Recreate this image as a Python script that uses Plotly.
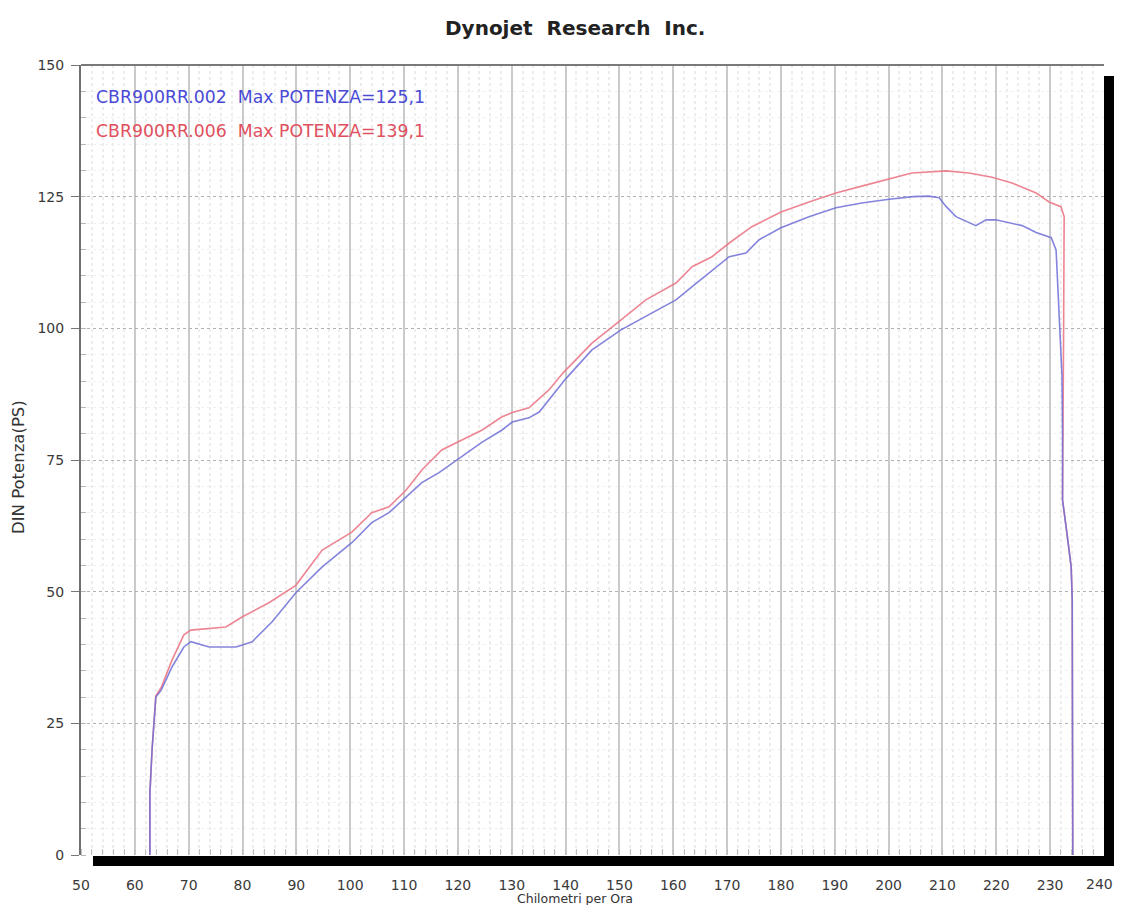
import plotly.graph_objects as go

# ---- data ----
x_ticks = list(range(50, 241, 10))
y_ticks = [0, 25, 50, 75, 100, 125, 150]

blue_name = "CBR900RR.002"
blue_label = "Max POTENZA=125,1"
blue_kmh = [62.8, 62.8, 63.2, 63.6, 63.9, 64.9, 66.9, 69.1, 70.4, 73.8, 78.8, 81.8, 85.5, 89.9, 94.8,
            100.3, 104.0, 107.2, 110.4, 113.3, 116.5, 120.6, 124.5, 128.2, 130.1, 133.2, 135.1, 140.1,
            144.9, 150.3, 154.9, 160.5, 163.5, 166.6, 170.4, 173.5, 175.9, 180.0, 185.2, 190.2, 195.0,
            200.1, 204.5, 207.5, 209.4, 210.7, 212.5, 216.2, 218.1, 219.9, 224.8, 227.4, 230.2, 231.1,
            231.5, 231.7, 232.0, 232.2, 232.3, 232.3, 233.1, 233.9, 234.1, 234.2]
blue_ps = [0, 11.8, 20, 25.1, 30, 31.3, 35.7, 39.5, 40.5, 39.5, 39.5, 40.5, 44.3, 49.8, 54.7,
           59.3, 63.1, 65.0, 68.0, 70.7, 72.6, 75.6, 78.4, 80.7, 82.2, 83.0, 84.1, 90.5,
           95.9, 99.7, 102.2, 105.4, 107.9, 110.5, 113.6, 114.3, 116.8, 119.1, 121.2, 122.9, 123.8,
           124.5, 125.0, 125.1, 124.8, 123.1, 121.2, 119.5, 120.6, 120.6, 119.5, 118.2, 117.2, 114.9,
           105.4, 99.7, 94.6, 91.0, 80.0, 67.4, 61.2, 54.7, 48.4, 0]

red_name = "CBR900RR.006"
red_label = "Max POTENZA=139,1"
red_kmh = [62.8, 62.8, 63.2, 63.6, 63.9, 64.9, 66.9, 69.1, 70.4, 76.9, 79.9, 84.9, 89.9, 94.8,
           100.3, 104.0, 107.2, 110.4, 113.3, 117.0, 120.6, 124.5, 128.2, 130.1, 133.2, 136.9, 139.5,
           144.9, 150.3, 154.9, 160.5, 163.5, 167.2, 170.4, 174.6, 180.0, 185.2, 190.2, 195.0, 200.1,
           204.3, 210.7, 214.9, 219.2, 222.9, 227.4, 229.8, 232.0, 232.6, 232.5, 232.3, 232.3, 233.1,
           233.9, 234.1, 234.2]
red_ps = [0, 11.8, 20, 25.3, 30.2, 31.8, 37.0, 41.8, 42.7, 43.3, 45.2, 47.9, 51.2, 57.9,
          61.3, 65.0, 66.1, 69.3, 73.1, 76.9, 78.8, 80.7, 83.2, 84.0, 84.9, 88.3, 91.5,
          97.2, 101.6, 105.4, 108.6, 111.7, 113.6, 116.2, 119.3, 122.1, 124.0, 125.7, 127.0, 128.4,
          129.5, 129.9, 129.5, 128.7, 127.6, 125.7, 124.0, 123.1, 121.2, 100.0, 80.0, 67.4, 61.2,
          54.7, 48.4, 0]

title_text = "<b>Dynojet\u00a0\u00a0Research\u00a0\u00a0Inc.</b>"
x_title = "Chilometri per Ora"
y_title = "DIN Potenza(PS)"

# ---- figure geometry (page pixels; page has an 8px body margin on every side) ----
OFF = 8
PAGE_W, PAGE_H = 1123, 913
W, H = PAGE_W - 2 * OFF, PAGE_H - 2 * OFF
PL, PR, PT, PB = 81, 1104, 65, 855       # plot area edges in page pixels
L, T = PL - OFF, PT - OFF
R, B = W - (PR - OFF), H - (PB - OFF)
pw, ph = W - L - R, H - T - B

def px_x(p):  # page pixel -> paper x
    return (p - PL) / pw

def px_y(p):  # page pixel -> paper y
    return (PB - p) / ph

FONT = "DejaVu Sans"
TICKFONT = dict(size=14, color="#3a3a3a", family=FONT)
fig = go.Figure()
fig.add_trace(go.Scatter(x=red_kmh, y=red_ps, mode="lines",
                         line=dict(color="rgba(235,120,135,0.9)", width=1.6), showlegend=False))
fig.add_trace(go.Scatter(x=blue_kmh, y=blue_ps, mode="lines",
                         line=dict(color="rgba(110,110,215,0.85)", width=1.6), showlegend=False))

fig.update_layout(
    width=W, height=H, autosize=False,
    margin=dict(l=L, r=R, t=T, b=B),
    paper_bgcolor="white", plot_bgcolor="white",
    font=dict(family=FONT, color="#333333"),
    showlegend=False,
)
# the last tick label sits at the very edge of the page; it is drawn as an annotation below
fig.update_xaxes(
    range=[x_ticks[0], x_ticks[-1]], tickvals=x_ticks[:-1], ticktext=[str(v) for v in x_ticks[:-1]],
    showgrid=True, gridcolor="#cacaca", gridwidth=1.5,
    ticks="", ticklabelstandoff=20,
    tickfont=TICKFONT,
    showline=False, zeroline=False,
    minor=dict(dtick=2, showgrid=True, gridcolor="#ededed", griddash="dot",
               ticks="inside", ticklen=6, tickcolor="#c0c0c0"),
)
fig.update_yaxes(
    range=[y_ticks[0], y_ticks[-1]], tickvals=y_ticks,
    showgrid=True, gridcolor="#b0b0b0", gridwidth=1.2, griddash="3px,3px",
    ticks="outside", ticklen=8, tickcolor="#777777", ticklabelstandoff=4,
    tickfont=TICKFONT,
    showline=True, linecolor="#707070", linewidth=2, zeroline=False,
    minor=dict(dtick=5, showgrid=True, gridcolor="#f0f0f0", griddash="dot",
               ticks="inside", ticklen=5, tickcolor="#b5b5b5"),
)

shapes = [
    dict(type="line", xref="paper", yref="paper", x0=0, x1=1, y0=1, y1=1,
         line=dict(color="#7a7a7a", width=2), layer="above"),
    dict(type="rect", xref="paper", yref="paper", x0=px_x(93), x1=px_x(1114),
         y0=px_y(866), y1=px_y(856), fillcolor="black", line=dict(width=0), layer="above"),
    dict(type="rect", xref="paper", yref="paper", x0=px_x(1104), x1=px_x(1114),
         y0=px_y(866), y1=px_y(76), fillcolor="black", line=dict(width=0), layer="above"),
]
fig.update_layout(shapes=shapes)

ann = [
    dict(text=title_text, x=px_x(575), y=px_y(28), xref="paper", yref="paper",
         showarrow=False, xanchor="center", yanchor="middle",
         font=dict(size=20, color="#222222", family=FONT)),
    dict(text=x_title, x=px_x(575), y=px_y(898), xref="paper", yref="paper",
         showarrow=False, xanchor="center", yanchor="middle",
         font=dict(size=12.5, color="#333333", family=FONT)),
    dict(text=y_title, x=px_x(18), y=px_y(467), xref="paper", yref="paper",
         showarrow=False, xanchor="center", yanchor="middle", textangle=-90,
         font=dict(size=16.5, color="#333333", family=FONT)),
    dict(text=blue_name + "\u00a0\u00a0" + blue_label, x=px_x(94), y=px_y(97),
         xref="paper", yref="paper", showarrow=False, xanchor="left", yanchor="middle",
         font=dict(size=17.3, color="#4a4ad6", family=FONT)),
    dict(text=red_name + "\u00a0\u00a0" + red_label, x=px_x(94), y=px_y(131),
         xref="paper", yref="paper", showarrow=False, xanchor="left", yanchor="middle",
         font=dict(size=17.3, color="#e0505e", family=FONT)),
    dict(text=str(x_ticks[-1]), x=px_x(1114), y=px_y(884), xref="paper", yref="paper",
         showarrow=False, xanchor="right", yanchor="middle", font=TICKFONT,
         borderpad=0, xshift=0),
]
fig.update_layout(annotations=ann)

fig.write_html("out.html")
